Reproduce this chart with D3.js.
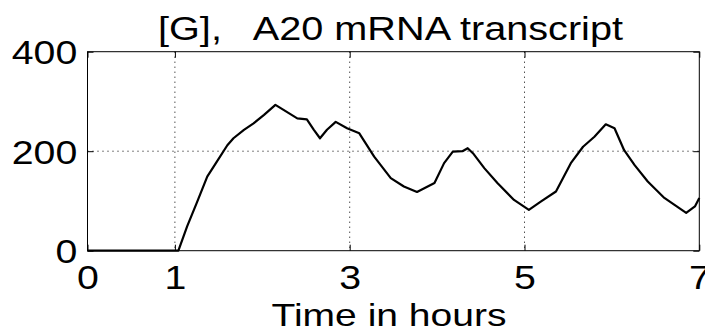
<!DOCTYPE html>
<html>
<head>
<meta charset="utf-8">
<script src="https://cdn.jsdelivr.net/npm/d3@7.9.0/dist/d3.min.js"></script>
<style>
  html, body { margin: 0; padding: 0; background: #fff; }
  svg { display: block; }
  text { font-family: "Liberation Sans", Arial, sans-serif; fill: #000; }
</style>
</head>
<body>
<svg id="chart" width="705" height="333"></svg>
<script>
// A20 mRNA transcript
const hours = [0, 0.5, 1.04, 1.14, 1.25, 1.37, 1.48, 1.60, 1.67, 1.79, 1.90, 2.02, 2.15, 2.28, 2.40, 2.51, 2.59, 2.66, 2.74, 2.84, 2.97, 3.11,
  3.28, 3.47, 3.62, 3.77, 3.97, 4.08, 4.18, 4.29, 4.35, 4.41, 4.54, 4.69, 4.88, 5.05, 5.19, 5.36, 5.53, 5.67, 5.80, 5.93, 6.03,
  6.14, 6.26, 6.41, 6.60, 6.85, 6.95, 7.0];
const transcript = [0, 0, 0, 49, 96, 149, 179, 212, 226, 243, 256, 273, 293, 279, 266, 264, 243, 226, 243, 259, 246, 236,
  189, 146, 129, 118, 136, 176, 199, 200, 206, 196, 166, 136, 102, 82, 99, 119, 176, 209, 229, 254, 246,
  202, 172, 139, 106, 76, 89, 106];

const xTicks = [0, 1, 3, 5, 7];
const yTicks = [0, 200, 400];
const xGrid = [1, 3, 5];
const yGrid = [200];

const margin = { left: 87.5, right: 5.7, top: 51.7, bottom: 82.3 };
const width = 705, height = 333;
const fontSize = 33;
const stretch = 1.19; // the reference text is wider than plain Arial

const svg = d3.select('#chart');

const x = d3.scaleLinear().domain([0, 7]).range([margin.left, width - margin.right]);
const y = d3.scaleLinear().domain([0, 400]).range([height - margin.bottom, margin.top]);

// grid
svg.append('g')
  .selectAll('line')
  .data(xGrid)
  .join('line')
  .attr('x1', d => x(d)).attr('x2', d => x(d))
  .attr('y1', y(400)).attr('y2', y(0))
  .attr('stroke', '#000').attr('stroke-width', 1).attr('stroke-dasharray', '1,4');

svg.append('g')
  .selectAll('line')
  .data(yGrid)
  .join('line')
  .attr('x1', x(0)).attr('x2', x(7))
  .attr('y1', d => y(d)).attr('y2', d => y(d))
  .attr('stroke', '#000').attr('stroke-width', 1).attr('stroke-dasharray', '1,4');

// axes: ticks pointing inward on all four sides
const tickLen = 6;
const bottomAxis = svg.append('g')
  .attr('transform', `translate(0,${y(0)})`)
  .call(d3.axisBottom(x).tickValues(xTicks).tickSize(-tickLen).tickFormat(d3.format('d')));
const topAxis = svg.append('g')
  .attr('transform', `translate(0,${y(400)})`)
  .call(d3.axisTop(x).tickValues(xTicks).tickSize(-tickLen).tickFormat(''));
const leftAxis = svg.append('g')
  .attr('transform', `translate(${x(0)},0)`)
  .call(d3.axisLeft(y).tickValues(yTicks).tickSize(-tickLen).tickFormat(d3.format('d')));
const rightAxis = svg.append('g')
  .attr('transform', `translate(${x(7)},0)`)
  .call(d3.axisRight(y).tickValues(yTicks).tickSize(-tickLen).tickFormat(''));

[bottomAxis, topAxis, leftAxis, rightAxis].forEach(g => {
  g.select('.domain').remove();
  g.selectAll('.tick line').attr('stroke', '#000');
  g.selectAll('text')
    .attr('font-size', fontSize)
    .attr('font-family', '"Liberation Sans", Arial, sans-serif')
    .attr('fill', '#000')
    .attr('transform', `scale(${stretch},1)`);
});
bottomAxis.selectAll('text').attr('dy', 0).attr('y', 38.5);
leftAxis.selectAll('text').attr('dy', '0.36em').attr('x', -8.6);

// frame
svg.append('rect')
  .attr('x', x(0)).attr('y', y(400))
  .attr('width', x(7) - x(0)).attr('height', y(0) - y(400))
  .attr('fill', 'none').attr('stroke', '#000').attr('stroke-width', 1);

// data line
const line = d3.line().x((d, i) => x(hours[i])).y(d => y(d));
svg.append('path')
  .datum(transcript)
  .attr('d', line)
  .attr('fill', 'none')
  .attr('stroke', '#000')
  .attr('stroke-width', 2.2)
  .attr('stroke-linejoin', 'round');

// labels
svg.append('text')
  .attr('x', 390.5).attr('y', 40)
  .attr('text-anchor', 'middle')
  .attr('font-size', fontSize)
  .attr('textLength', 465)
  .attr('lengthAdjust', 'spacingAndGlyphs')
  .style('white-space', 'pre')
  .text('[G],   A20 mRNA transcript');

svg.append('text')
  .attr('x', 389).attr('y', 326)
  .attr('text-anchor', 'middle')
  .attr('font-size', 32)
  .attr('textLength', 235)
  .attr('lengthAdjust', 'spacingAndGlyphs')
  .text('Time in hours');
</script>
</body>
</html>
